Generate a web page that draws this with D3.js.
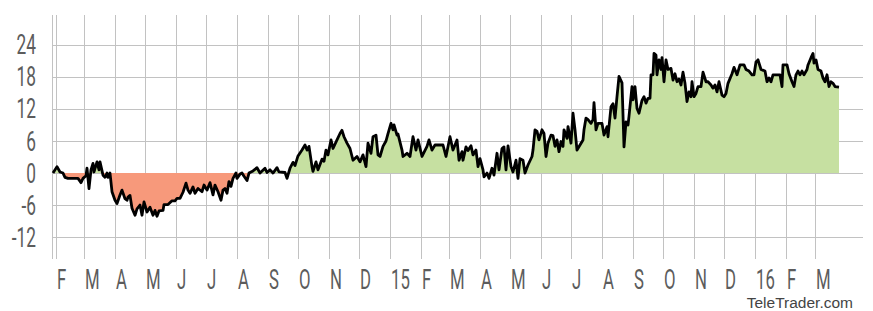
<!DOCTYPE html>
<html>
<head>
<meta charset="utf-8">
<script src="https://cdn.jsdelivr.net/npm/d3@7"></script>
<style>
  body { margin: 0; background: #fff; }
</style>
</head>
<body>
<div id="chart"></div>
<script>
// performance in %
var dates = [
  "2014-01-29","2014-02-02","2014-02-05","2014-02-08","2014-02-10","2014-02-13","2014-02-23","2014-02-26","2014-02-28",
  "2014-03-03","2014-03-04","2014-03-06","2014-03-08","2014-03-10","2014-03-11","2014-03-14","2014-03-16","2014-03-17",
  "2014-03-20","2014-03-22","2014-03-24","2014-03-25","2014-03-27","2014-03-29",
  "2014-04-01","2014-04-03","2014-04-06","2014-04-08","2014-04-11","2014-04-13","2014-04-14","2014-04-16","2014-04-18",
  "2014-04-21","2014-04-23","2014-04-26","2014-04-28","2014-04-30",
  "2014-05-03","2014-05-06","2014-05-09","2014-05-11","2014-05-13","2014-05-15","2014-05-19","2014-05-20","2014-05-24",
  "2014-05-28","2014-05-31",
  "2014-06-02","2014-06-05","2014-06-08","2014-06-11","2014-06-13","2014-06-15","2014-06-18","2014-06-20","2014-06-23",
  "2014-06-27","2014-06-29",
  "2014-07-02","2014-07-05","2014-07-08","2014-07-10","2014-07-13","2014-07-16","2014-07-18","2014-07-20","2014-07-22",
  "2014-07-24","2014-07-26","2014-07-28","2014-07-31",
  "2014-08-01","2014-08-04","2014-08-06","2014-08-08","2014-08-11","2014-08-13","2014-08-17","2014-08-21","2014-08-24",
  "2014-08-29","2014-08-31",
  "2014-09-03","2014-09-06","2014-09-10","2014-09-12","2014-09-18","2014-09-20","2014-09-23","2014-09-26","2014-09-28",
  "2014-10-01","2014-10-05","2014-10-08","2014-10-10","2014-10-12","2014-10-15","2014-10-16","2014-10-19","2014-10-21",
  "2014-10-25","2014-10-27","2014-10-29","2014-10-31",
  "2014-11-03","2014-11-05","2014-11-09","2014-11-12","2014-11-14","2014-11-16","2014-11-19","2014-11-22","2014-11-25",
  "2014-11-29",
  "2014-12-02","2014-12-05","2014-12-08","2014-12-10","2014-12-13","2014-12-15","2014-12-18","2014-12-20","2014-12-22",
  "2014-12-25","2014-12-28","2014-12-30",
  "2015-01-02","2015-01-04","2015-01-05","2015-01-08","2015-01-09","2015-01-13","2015-01-14","2015-01-18","2015-01-21",
  "2015-01-24","2015-01-27","2015-01-29",
  "2015-02-02","2015-02-07","2015-02-09","2015-02-12","2015-02-15","2015-02-23","2015-02-26",
  "2015-03-02","2015-03-05","2015-03-09","2015-03-11","2015-03-14","2015-03-15","2015-03-18","2015-03-20","2015-03-23",
  "2015-03-25","2015-03-28","2015-03-30",
  "2015-04-01","2015-04-04","2015-04-05","2015-04-08","2015-04-10","2015-04-13","2015-04-15","2015-04-18","2015-04-20",
  "2015-04-23","2015-04-25","2015-04-27","2015-04-29",
  "2015-05-02","2015-05-04","2015-05-07","2015-05-09","2015-05-11","2015-05-14","2015-05-16","2015-05-19","2015-05-23",
  "2015-05-24","2015-05-26","2015-05-28","2015-05-30",
  "2015-06-02","2015-06-04","2015-06-06","2015-06-08","2015-06-11","2015-06-13","2015-06-15","2015-06-17","2015-06-19",
  "2015-06-21","2015-06-23","2015-06-24","2015-06-27","2015-06-28",
  "2015-07-01","2015-07-03","2015-07-05","2015-07-07","2015-07-10","2015-07-13","2015-07-14","2015-07-16","2015-07-18",
  "2015-07-21","2015-07-23","2015-07-24","2015-07-26","2015-07-28",
  "2015-08-01","2015-08-03","2015-08-06","2015-08-07","2015-08-10","2015-08-12","2015-08-14","2015-08-16","2015-08-18",
  "2015-08-21","2015-08-23","2015-08-25","2015-08-27","2015-08-28","2015-08-31",
  "2015-09-01","2015-09-03","2015-09-05","2015-09-07","2015-09-10","2015-09-12","2015-09-14","2015-09-16","2015-09-18",
  "2015-09-19","2015-09-21","2015-09-22","2015-09-24","2015-09-25","2015-09-27","2015-09-29","2015-09-30",
  "2015-10-02","2015-10-04","2015-10-06","2015-10-09","2015-10-11","2015-10-13","2015-10-15","2015-10-17","2015-10-19",
  "2015-10-21","2015-10-23","2015-10-25","2015-10-27","2015-10-29","2015-10-30",
  "2015-11-01","2015-11-03","2015-11-05","2015-11-08","2015-11-10","2015-11-13","2015-11-15","2015-11-18","2015-11-20",
  "2015-11-22","2015-11-24","2015-11-26","2015-11-29",
  "2015-12-01","2015-12-03","2015-12-05","2015-12-09","2015-12-11","2015-12-14","2015-12-17","2015-12-21","2015-12-23",
  "2015-12-26","2015-12-29","2015-12-31",
  "2016-01-02","2016-01-04","2016-01-07","2016-01-11","2016-01-13","2016-01-15","2016-01-17","2016-01-19","2016-01-26",
  "2016-01-28","2016-01-29",
  "2016-02-02","2016-02-04","2016-02-07","2016-02-09","2016-02-11","2016-02-13","2016-02-15","2016-02-17","2016-02-19",
  "2016-02-22","2016-02-23","2016-02-26","2016-02-28","2016-02-29",
  "2016-03-02","2016-03-04","2016-03-07","2016-03-09","2016-03-11","2016-03-13","2016-03-15","2016-03-17","2016-03-19",
  "2016-03-21","2016-03-25"
];
var perf = [
  0, 1.2, 0.2, 0, -0.8, -1, -1, -1.8, -1,
  -0.5, 0.9, -2.9, 0.6, 1.8, 0.2, 2.1, 0.6, 2.1,
  -0.4, -0.8, 0, -0.8, 0, -3.5,
  -5.1, -5.7, -4.1, -3.2, -4.8, -5.1, -4.5, -4.2, -6.6,
  -7.9, -6.7, -6.0, -7.9, -5.4,
  -7.3, -6.4, -7.9, -7.0, -8.1, -7.1, -7.0, -5.9, -5.9,
  -5.2, -5.2,
  -4.75, -4.75, -3.6, -1.9, -3.2, -3.8, -2.6, -3.8, -2.9,
  -3.5, -2.25,
  -3.2, -1.8, -4.1, -2.25, -3.5, -5.1, -3.2, -2.9, -3.8,
  -1.6, -2.5, -1.0, 0,
  -1.0, -0.2, 0, -0.6, -1.4, 0, 0.4, 1.0, 0,
  0.9, 0.1,
  0.6, 0, 1.0, 0.2, 0.1, -1.0, 0.9, 2.0, 1.4,
  3.2, 4.3, 5.25, 4.3, 5.0, 1.2, 0.3, 2.1, 0.6,
  2.6, 2.2, 4.3, 3.4,
  6.2, 4.6, 6.2, 7.4, 8.0, 6.8, 5.6, 4.6, 2.4,
  3.1,
  2.1, 3.4, 1.2, 5.6, 3.7, 6.8, 7.1, 3.4, 3.1,
  5.0, 6.0, 7.4,
  9.3, 8.1, 9.0, 7.1, 7.3, 4.3, 3.1, 3.7, 3.1,
  6.8, 4.3, 6.2,
  3.1, 5.0, 6.2, 4.3, 5.25, 5.25, 3.1,
  6.8, 4.3, 6.2, 2.4, 4.0, 2.4, 4.9, 4.2, 5.1,
  3.4, 4.3, 1.2,
  2.7, 0.6, -0.7, 0, -1.0, 0.9, -0.4, 3.7, 0.6,
  4.6, 4.9, 0.6, 5.1,
  1.2, 0.2, 2.4, -1.0, 2.7, 2.4, 0, 1.5, 3.1,
  4.3, 8.1, 7.8, 6.2,
  8.1, 7.4, 3.1, 5.6, 7.1, 7.0, 5.0, 6.2, 4.0,
  5.9, 5.0, 8.1, 6.5, 8.7,
  5.6, 11.2, 8.1, 4.3, 5.25, 6.2, 8.1, 10.3, 10.0,
  9.3, 10.0, 13.2, 8.1, 9.3,
  9.3, 7.1, 8.7, 6.8, 12.4, 13.0, 10.3, 14.3, 18.1,
  16.9, 4.9, 9.6, 9.0, 10.6, 16.2,
  13.7, 16.2, 12.1, 11.2, 13.6, 14.3, 13.1, 14.0, 14.0,
  18.4, 18.4, 22.4, 22.1, 18.4, 21.2, 19.4, 21.6,
  17.1, 21.2, 19.4, 19.6, 17.4, 18.6, 17.1, 17.6, 16.5,
  18.9, 16.8, 13.4, 15.2, 14.3, 17.1,
  14.3, 14.9, 16.2, 16.2, 18.9, 17.1, 17.1, 16.5, 15.9,
  16.5, 15.2, 17.1, 14.6,
  14.3, 14.9, 16.8, 18.6, 19.8, 18.4, 20.25, 20.25, 19.4,
  19.1, 18.4, 18.4,
  20.8, 21.2, 19.4, 19.1, 17.1, 17.8, 17.1, 18.4, 18.4,
  16.2, 20.25,
  20.25, 18.6, 17.1, 16.2, 18.4, 19.1, 18.4, 19.1, 18.4,
  19.4, 20.25, 21.6, 22.4, 20.6,
  21.2, 19.4, 19.1, 17.8, 17.1, 18.4, 16.2, 17.1, 16.8,
  16.2, 16.1
];
var yTicks = [-12, -6, 0, 6, 12, 18, 24];
var monthLabels = ["F","M","A","M","J","J","A","S","O","N","D","15",
                   "F","M","A","M","J","J","A","S","O","N","D","16","F","M"];

var draw = function () {
  var width = 873, height = 311;
  var plotLeft = 53, plotRight = 863, plotTop = 15, plotBottom = 259;

  var parse = d3.timeParse("%Y-%m-%d");
  var data = dates.map(function (d, i) { return { date: parse(d), v: perf[i] }; });

  var x = d3.scaleTime()
    .domain([new Date(2014, 0, 29), new Date(2016, 3, 18)])
    .range([plotLeft, plotRight]);
  var y = d3.scaleLinear()
    .domain([-16.1, 29.6])
    .range([plotBottom, plotTop]);

  var svg = d3.select("#chart").append("svg")
    .attr("width", width)
    .attr("height", height);

  var labelFont = "Roboto, 'DejaVu Sans Condensed', sans-serif";

  // horizontal grid
  svg.append("g").selectAll("line")
    .data(yTicks)
    .enter().append("line")
    .attr("x1", plotLeft).attr("x2", plotRight)
    .attr("y1", function (d) { return Math.round(y(d)) + 0.5; })
    .attr("y2", function (d) { return Math.round(y(d)) + 0.5; })
    .style("stroke", "#c2c2c2");

  // vertical grid at month starts
  var months = d3.timeMonth.range(new Date(2014, 1, 1), new Date(2016, 2, 2));
  svg.append("g").selectAll("line")
    .data(months)
    .enter().append("line")
    .attr("x1", function (d) { return Math.round(x(d)) + 0.5; })
    .attr("x2", function (d) { return Math.round(x(d)) + 0.5; })
    .attr("y1", plotTop).attr("y2", plotBottom)
    .style("stroke", "#c2c2c2");

  // left border
  svg.append("line")
    .attr("x1", plotLeft - 0.5).attr("x2", plotLeft - 0.5)
    .attr("y1", plotTop).attr("y2", plotBottom)
    .style("stroke", "#c2c2c2");

  // areas above / below zero
  var defs = svg.append("defs");
  defs.append("clipPath").attr("id", "above").append("rect")
    .attr("x", 0).attr("y", 0).attr("width", width).attr("height", y(0));
  defs.append("clipPath").attr("id", "below").append("rect")
    .attr("x", 0).attr("y", y(0)).attr("width", width).attr("height", height);

  var area = d3.area()
    .x(function (d) { return x(d.date); })
    .y0(y(0))
    .y1(function (d) { return y(d.v); });

  svg.append("path").datum(data)
    .attr("d", area)
    .attr("clip-path", "url(#above)")
    .style("fill", "#c6e0a1");
  svg.append("path").datum(data)
    .attr("d", area)
    .attr("clip-path", "url(#below)")
    .style("fill", "#f7997b");

  var line = d3.line()
    .x(function (d) { return x(d.date); })
    .y(function (d) { return y(d.v); });

  svg.append("path").datum(data)
    .attr("d", line)
    .style("fill", "none")
    .style("stroke", "#000")
    .style("stroke-width", 2.8)
    .style("stroke-linejoin", "round");

  // y labels
  svg.append("g").selectAll("text")
    .data(yTicks)
    .enter().append("text")
    .attr("transform", function (d) { return "translate(36," + (y(d) + 9.5) + ") scale(0.64,1)"; })
    .attr("text-anchor", "end")
    .style("font-family", labelFont)
    .style("font-size", "27px")
    .style("fill", "#5c5c5c")
    .text(function (d) { return d; });

  // x labels
  svg.append("g").selectAll("text")
    .data(months)
    .enter().append("text")
    .attr("transform", function (d) { return "translate(" + (x(d) + 1) + ",289) scale(0.62,1)"; })
    .style("font-family", labelFont)
    .style("font-size", "27px")
    .style("fill", "#5c5c5c")
    .text(function (d, i) { return monthLabels[i]; });

  svg.append("text")
    .attr("x", 853).attr("y", 308)
    .attr("text-anchor", "end")
    .style("font-family", "'Liberation Sans', Arial, sans-serif")
    .style("font-size", "15.5px")
    .style("fill", "#444")
    .text("TeleTrader.com");
};
draw();
</script>
</body>
</html>
